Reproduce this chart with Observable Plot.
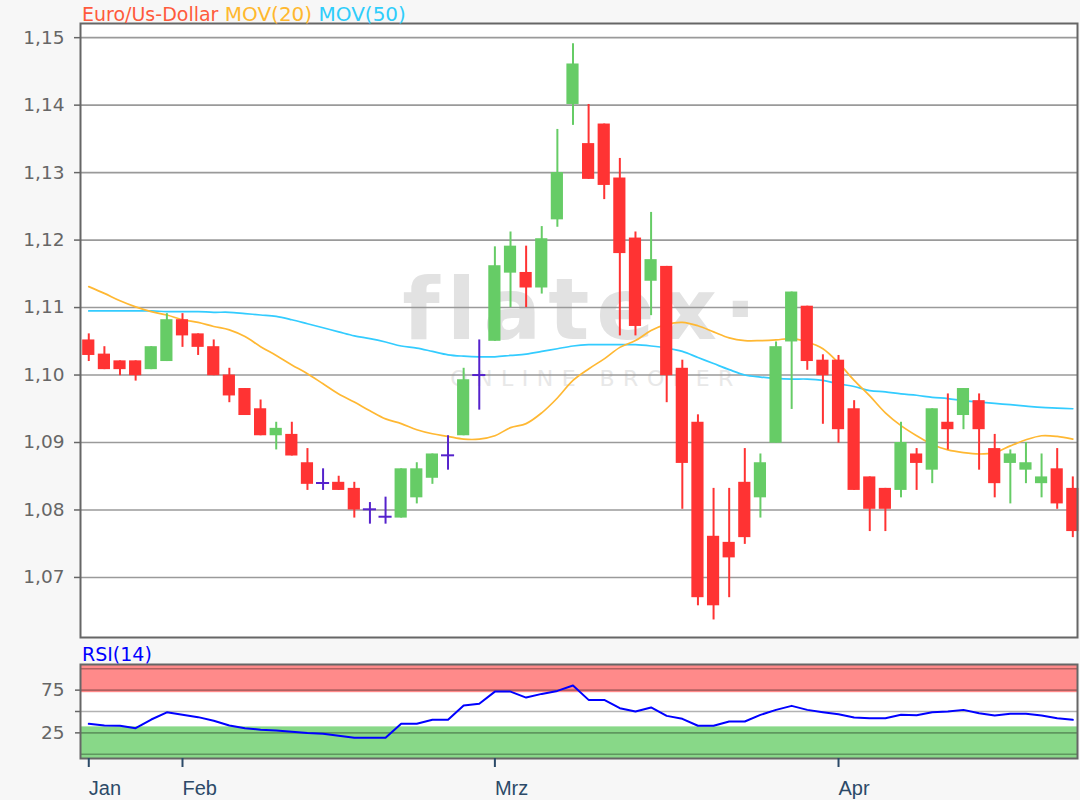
<!DOCTYPE html>
<html>
<head>
<meta charset="utf-8">
<script src="https://cdn.jsdelivr.net/npm/d3@7"></script>
<script src="https://cdn.jsdelivr.net/npm/@observablehq/plot@0.6"></script>
<style>
  html, body { margin: 0; padding: 0; background: #f7f7f7; }
  #wrap { position: relative; width: 1080px; height: 800px; background: #f7f7f7; overflow: hidden; font-family: "DejaVu Sans", Verdana, sans-serif; }
  #main { position: absolute; left: 0; top: 0; }
  #rsi { position: absolute; left: 0; top: 645px; }
  .lbl { position: absolute; font-size: 19px; line-height: 19px; white-space: pre; z-index: 5; }
  #title { left: 82px; top: 5px; }
  #rsiTitle { left: 82px; top: 645px; color: #0000ff; }
  svg { overflow: visible; }
</style>
</head>
<body>
<div id="wrap">
  <div id="main"></div>
  <div id="rsi"></div>
  <div id="title" class="lbl"></div>
  <div id="rsiTitle" class="lbl"></div>
</div>
<script>
// ---------- data (EUR/USD daily, 24 Jan – 22 Apr) ----------
const openV  = [1.1052,1.1031,1.1021,1.1021,1.1008,1.1020,1.1082,1.1061,1.1042,1.1000,
                1.0980,1.0950,1.0910,1.0912,1.0870,1.0840,1.0841,1.0832,1.0801,1.0790,
                1.0788,1.0818,1.0847,1.0881,1.0910,1.1000,1.1050,1.1151,1.1152,1.1129,
                1.1230,1.1401,1.1343,1.1372,1.1292,1.1203,1.1139,1.1161,1.1010,1.0930,
                1.0761,1.0752,1.0841,1.0818,1.0899,1.1049,1.1102,1.1022,1.1022,1.0950,
                1.0849,1.0832,1.0829,1.0883,1.0859,1.0930,1.0940,1.0962,1.0891,1.0869,
                1.0859,1.0839,1.0861,1.0832];
const highV  = [1.1061,1.1042,1.1021,1.1021,1.1042,1.1091,1.1091,1.1061,1.1052,1.1010,
                1.0980,1.0963,1.0930,1.0930,1.0891,1.0861,1.0850,1.0841,1.0811,1.0819,
                1.0861,1.0870,1.0883,1.0910,1.1010,1.1052,1.1190,1.1212,1.1191,1.1220,
                1.1364,1.1491,1.1401,1.1372,1.1321,1.1212,1.1241,1.1161,1.1022,1.0941,
                1.0832,1.0832,1.0891,1.0883,1.1049,1.1123,1.1102,1.1030,1.1029,1.0962,
                1.0849,1.0832,1.0930,1.0891,1.0950,1.0972,1.0980,1.0972,1.0912,1.0889,
                1.0900,1.0883,1.0891,1.0849];
const lowV   = [1.1020,1.1008,1.0999,1.0991,1.1008,1.1020,1.1041,1.1029,1.0999,1.0959,
                1.0940,1.0910,1.0889,1.0880,1.0829,1.0829,1.0829,1.0788,1.0779,1.0779,
                1.0788,1.0809,1.0838,1.0859,1.0910,1.0948,1.1050,1.1100,1.1100,1.1120,
                1.1219,1.1370,1.1290,1.1260,1.1058,1.1058,1.1088,1.0959,1.0801,1.0658,
                1.0637,1.0670,1.0749,1.0788,1.0899,1.0949,1.1007,1.0927,1.0899,1.0829,
                1.0768,1.0768,1.0818,1.0829,1.0839,1.0889,1.0919,1.0859,1.0818,1.0809,
                1.0839,1.0818,1.0801,1.0759];
const closeV = [1.1029,1.1008,1.1008,1.0999,1.1042,1.1082,1.1058,1.1041,1.0999,1.0969,
                1.0940,1.0910,1.0921,1.0880,1.0838,1.0840,1.0829,1.0800,1.0801,1.0790,
                1.0861,1.0861,1.0883,1.0881,1.0993,1.1000,1.1162,1.1191,1.1129,1.1202,
                1.1300,1.1461,1.1290,1.1281,1.1180,1.1072,1.1171,1.0999,1.0869,1.0670,
                1.0658,1.0729,1.0759,1.0870,1.1042,1.1123,1.1020,1.0999,1.0919,1.0829,
                1.0801,1.0801,1.0900,1.0869,1.0950,1.0919,1.0980,1.0919,1.0839,1.0883,
                1.0870,1.0849,1.0809,1.0768];
const ma20V  = [1.1131,1.1121,1.1110,1.1101,1.1094,1.1089,1.1082,1.1078,1.1072,1.1067,
                1.1057,1.1042,1.1029,1.1015,1.1002,1.0987,1.0972,1.0960,1.0947,1.0935,
                1.0928,1.0919,1.0913,1.0909,1.0905,1.0905,1.0910,1.0922,1.0928,1.0944,
                1.0966,1.0992,1.1009,1.1024,1.1041,1.1051,1.1066,1.1075,1.1078,1.1073,
                1.1064,1.1055,1.1051,1.1051,1.1052,1.1054,1.1049,1.1039,1.1018,1.0992,
                1.0969,1.0944,1.0925,1.0910,1.0897,1.0889,1.0885,1.0883,1.0885,1.0895,
                1.0904,1.0910,1.0909,1.0905];
const ma50V  = [1.1095,1.1095,1.1095,1.1095,1.1095,1.1094,1.1094,1.1094,1.1093,1.1093,
                1.1091,1.1089,1.1087,1.1082,1.1076,1.1070,1.1064,1.1058,1.1054,1.1049,
                1.1043,1.1040,1.1035,1.1030,1.1028,1.1027,1.1027,1.1029,1.1031,1.1035,
                1.1039,1.1043,1.1045,1.1045,1.1045,1.1045,1.1043,1.1040,1.1035,1.1026,
                1.1017,1.1008,1.1000,1.0997,1.0995,1.0994,1.0994,1.0992,1.0987,1.0983,
                1.0977,1.0975,1.0972,1.0970,1.0967,1.0965,1.0962,1.0960,1.0958,1.0956,
                1.0954,1.0952,1.0951,1.0950];
const rsiV   = [35.6,33.7,33.3,30.5,40.6,49.0,46.1,43.4,39.1,33.7,
                30.5,28.6,27.8,26.3,24.7,23.9,21.6,19.3,19.3,19.3,
                35.6,35.6,40.3,40.3,57.0,59.0,73.3,73.3,66.3,70.6,
                74.1,80.4,63.6,63.6,53.9,50.0,54.7,44.9,41.4,33.3,
                33.3,38.3,38.3,46.1,51.9,56.6,51.9,49.2,46.9,43.0,
                42.2,42.2,46.1,45.7,49.2,50.0,51.9,48.0,45.3,47.3,
                47.3,45.3,42.2,40.3];
const monthIdx    = [0, 6, 26, 48];
const monthLabels = ["Jan", "Feb", "Mrz", "Apr"];
const priceTicks  = [1.07, 1.08, 1.09, 1.10, 1.11, 1.12, 1.13, 1.14, 1.15];
const rsiGrid     = [0, 25, 50, 75, 100];
const rsiTicks    = [25, 50, 75];
const rsiLabeled  = [25, 75];
const rsiBands    = [{lo: 72, hi: 105, fill: "#ff8a8a"}, {lo: -5, hi: 32, fill: "#88d888"}];
const titleParts  = [["Euro/Us-Dollar", "#ff5a3c", 19], ["MOV(20)", "#ffb82e", 20], ["MOV(50)", "#2fcdfb", 20]];
const watermark   = ["flatex\u00b7", "ONLINE BROKER"];

// ---------- derived tables ----------
const UP = "#66cc66", DOWN = "#ff3333", DOJI = "#5522cc";
const candles = openV.map((o, i) => ({i, o, h: highV[i], l: lowV[i], c: closeV[i],
  col: closeV[i] > o ? UP : closeV[i] < o ? DOWN : DOJI}));
const bodies = candles.filter(d => d.col !== DOJI);
const dojis = candles.filter(d => d.col === DOJI);
const ma20 = ma20V.map((v, i) => ({i, v}));
const ma50 = ma50V.map((v, i) => ({i, v}));
const rsi = rsiV.map((v, i) => ({i, v}));

const xDomain = [-0.53, 63.3];
const FONT = "'DejaVu Sans', Verdana, sans-serif";
const XFONT = "'Liberation Sans', Arial, sans-serif";
const HW = 0.39;

// ---------- main price chart ----------
const main = Plot.plot({
  width: 1080, height: 645,
  marginLeft: 80, marginRight: 3, marginTop: 23, marginBottom: 8,
  style: {background: "transparent", fontFamily: FONT},
  x: {domain: xDomain, axis: null},
  y: {domain: [1.0611, 1.1521], axis: null},
  color: {type: "identity"},
  marks: [
    Plot.frame({fill: "white", stroke: "none"}),
    Plot.text([watermark[0]], {frameAnchor: "middle", text: d => d, dx: 4, dy: -19,
      fontSize: 86, fontWeight: "bold", fontFamily: "'DejaVu Sans', sans-serif", fill: "#e2e2e2"}),
    Plot.text([watermark[1]], {frameAnchor: "middle", text: d => d, dx: 17, dy: 48,
      fontSize: 22, fontFamily: "'DejaVu Sans', sans-serif", fill: "#e8e8e8"}),
    Plot.ruleY(priceTicks, {stroke: "#9a9a9a", strokeWidth: 1.6}),
    Plot.axisY({ticks: priceTicks, tickFormat: d => d.toFixed(2).replace(".", ","), label: null,
      tickSize: 6, tickPadding: 10, fontSize: 18.5, color: "#666", strokeWidth: 1.5}),
    Plot.line(ma50, {x: "i", y: "v", stroke: "#33ccff", strokeWidth: 1.7, curve: "catmull-rom"}),
    Plot.line(ma20, {x: "i", y: "v", stroke: "#ffb833", strokeWidth: 1.7, curve: "catmull-rom"}),
    Plot.ruleX(candles, {x: "i", y1: "l", y2: "h", stroke: "col", strokeWidth: 2}),
    Plot.rect(bodies, {x1: d => d.i - HW, x2: d => d.i + HW, y1: "o", y2: "c", fill: "col"}),
    Plot.ruleY(dojis, {x1: d => d.i - 0.42, x2: d => d.i + 0.42, y: "o", stroke: "col", strokeWidth: 2}),
    Plot.frame({stroke: "#666", strokeWidth: 2})
  ]
});
d3.select(main).selectAll("text").each(function () {
  if (this.textContent === watermark[0]) this.style.letterSpacing = "7px";
  if (this.textContent === watermark[1]) this.style.letterSpacing = "8.5px";
});
document.getElementById("main").append(main);

// ---------- RSI panel ----------
const rsiChart = Plot.plot({
  width: 1080, height: 155,
  marginLeft: 80, marginRight: 3, marginTop: 19, marginBottom: 42,
  style: {background: "transparent", fontFamily: FONT},
  x: {domain: xDomain, axis: null},
  y: {domain: [-5, 105], axis: null},
  color: {type: "identity"},
  marks: [
    Plot.frame({fill: "white", stroke: "none"}),
    Plot.rect(rsiBands, {y1: "lo", y2: "hi", fill: "fill"}),
    Plot.ruleY(rsiGrid, {stroke: "#000", strokeOpacity: 0.3, strokeWidth: 1.6}),
    Plot.axisY({ticks: rsiTicks, tickFormat: d => rsiLabeled.includes(d) ? String(d) : "", label: null,
      tickSize: 5, tickPadding: 11, fontSize: 18.5, color: "#666", strokeWidth: 1.5}),
    Plot.line(rsi, {x: "i", y: "v", stroke: "#0000ff", strokeWidth: 2}),
    Plot.frame({stroke: "#666", strokeWidth: 2}),
    Plot.axisX({ticks: monthIdx, tickFormat: d => monthLabels[monthIdx.indexOf(d)], label: null,
      textAnchor: "start", tickSize: 9, tickPadding: 13, fontSize: 20, fontFamily: XFONT,
      color: "#2c4a68", strokeWidth: 2})
  ]
});
document.getElementById("rsi").append(rsiChart);

// ---------- titles ----------
const t = document.getElementById("title");
titleParts.forEach(([s, c, fs], k) => {
  const span = document.createElement("span");
  span.textContent = (k ? " " : "") + s;
  span.style.color = c;
  span.style.fontSize = fs + "px";
  t.append(span);
});
document.getElementById("rsiTitle").textContent = "RSI(14)";
</script>
</body>
</html>
